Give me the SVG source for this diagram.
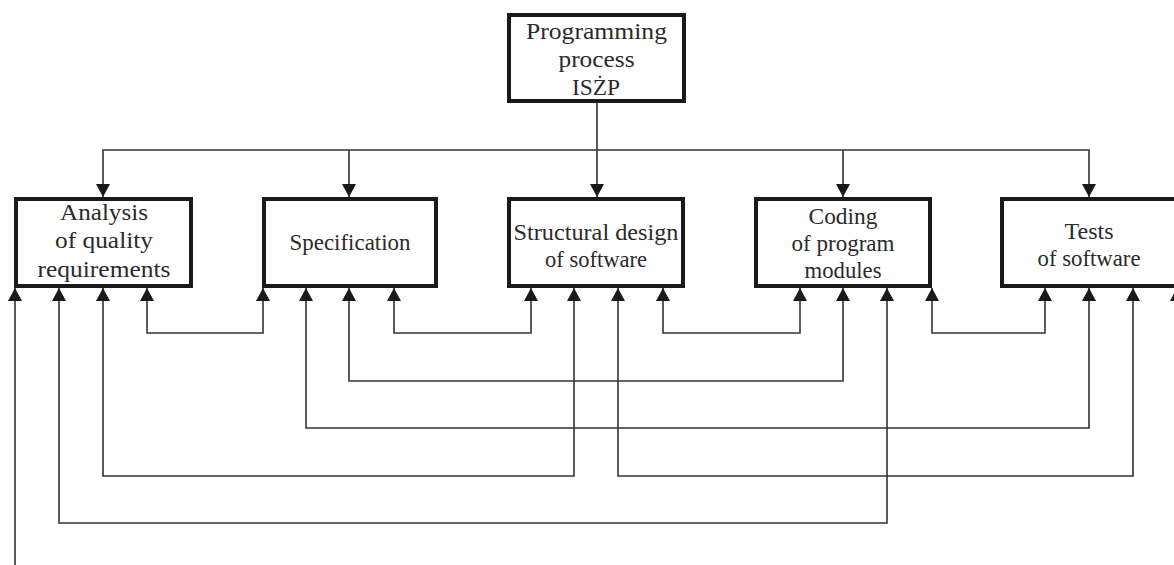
<svg xmlns="http://www.w3.org/2000/svg" width="1174" height="565" viewBox="0 0 1174 565">
<defs>
<marker id="arr" viewBox="0 0 13 14" refX="13" refY="7" markerWidth="13" markerHeight="14" markerUnits="userSpaceOnUse" orient="auto-start-reverse">
<path d="M0,0 L13,7 L0,14 Z" fill="#1a1a1a"/>
</marker>
</defs>
<style>
.box{fill:#fff;stroke:#1a1a1a;stroke-width:4}
.lbl{font-family:"Liberation Serif","Times New Roman",serif;font-size:23px;fill:#2a2a2a;text-anchor:middle}
.con{fill:none;stroke:#333;stroke-width:1.6}
</style>
<rect width="1174" height="565" fill="#fff"/>
<g id="connectors">
<path class="con" d="M597,103 V197" marker-end="url(#arr)"/>
<path class="con" d="M103,197 V150 H1089 V197" marker-start="url(#arr)" marker-end="url(#arr)"/>
<path class="con" d="M349,150 V197" marker-end="url(#arr)"/>
<path class="con" d="M843,150 V197" marker-end="url(#arr)"/>
<path class="con" d="M147,288 V333 H263 V288" marker-start="url(#arr)" marker-end="url(#arr)"/>
<path class="con" d="M394,288 V333 H531 V288" marker-start="url(#arr)" marker-end="url(#arr)"/>
<path class="con" d="M663,288 V333 H800 V288" marker-start="url(#arr)" marker-end="url(#arr)"/>
<path class="con" d="M932,288 V333 H1045 V288" marker-start="url(#arr)" marker-end="url(#arr)"/>
<path class="con" d="M349,288 V381 H843 V288" marker-start="url(#arr)" marker-end="url(#arr)"/>
<path class="con" d="M306,288 V428 H1089 V288" marker-start="url(#arr)" marker-end="url(#arr)"/>
<path class="con" d="M103,288 V476 H574 V288" marker-start="url(#arr)" marker-end="url(#arr)"/>
<path class="con" d="M618,288 V476 H1133 V288" marker-start="url(#arr)" marker-end="url(#arr)"/>
<path class="con" d="M59,288 V523 H887 V288" marker-start="url(#arr)" marker-end="url(#arr)"/>
<path class="con" d="M15,565 V288" marker-end="url(#arr)"/>
<path class="con" d="M1177,565 V288" marker-end="url(#arr)"/>
</g>
<g id="node-iszp">
<rect class="box" x="509" y="15" width="175" height="86"/>
<text class="lbl" x="596.5" y="39" textLength="141" lengthAdjust="spacingAndGlyphs">Programming</text>
<text class="lbl" x="596.5" y="67" textLength="76" lengthAdjust="spacingAndGlyphs">process</text>
<text class="lbl" x="596" y="95" textLength="48" lengthAdjust="spacingAndGlyphs">ISŻP</text>
</g>
<g id="node-analysis">
<rect class="box" x="16" y="199" width="175" height="87"/>
<text class="lbl" x="104" y="220" textLength="88" lengthAdjust="spacingAndGlyphs">Analysis</text>
<text class="lbl" x="104" y="248" textLength="98" lengthAdjust="spacingAndGlyphs">of quality</text>
<text class="lbl" x="104" y="277" textLength="133" lengthAdjust="spacingAndGlyphs">requirements</text>
</g>
<g id="node-specification">
<rect class="box" x="264" y="199" width="172" height="87"/>
<text class="lbl" x="350" y="250" textLength="121" lengthAdjust="spacingAndGlyphs">Specification</text>
</g>
<g id="node-structural">
<rect class="box" x="509" y="199" width="174" height="87"/>
<text class="lbl" x="596" y="240" textLength="165" lengthAdjust="spacingAndGlyphs">Structural design</text>
<text class="lbl" x="596" y="267" textLength="102" lengthAdjust="spacingAndGlyphs">of software</text>
</g>
<g id="node-coding">
<rect class="box" x="756" y="199" width="174" height="87"/>
<text class="lbl" x="843" y="224" textLength="69" lengthAdjust="spacingAndGlyphs">Coding</text>
<text class="lbl" x="843" y="251" textLength="103" lengthAdjust="spacingAndGlyphs">of program</text>
<text class="lbl" x="843" y="278" textLength="77" lengthAdjust="spacingAndGlyphs">modules</text>
</g>
<g id="node-tests">
<rect class="box" x="1002" y="199" width="174" height="87"/>
<text class="lbl" x="1089" y="239" textLength="49" lengthAdjust="spacingAndGlyphs">Tests</text>
<text class="lbl" x="1089" y="266" textLength="103" lengthAdjust="spacingAndGlyphs">of software</text>
</g>
</svg>
